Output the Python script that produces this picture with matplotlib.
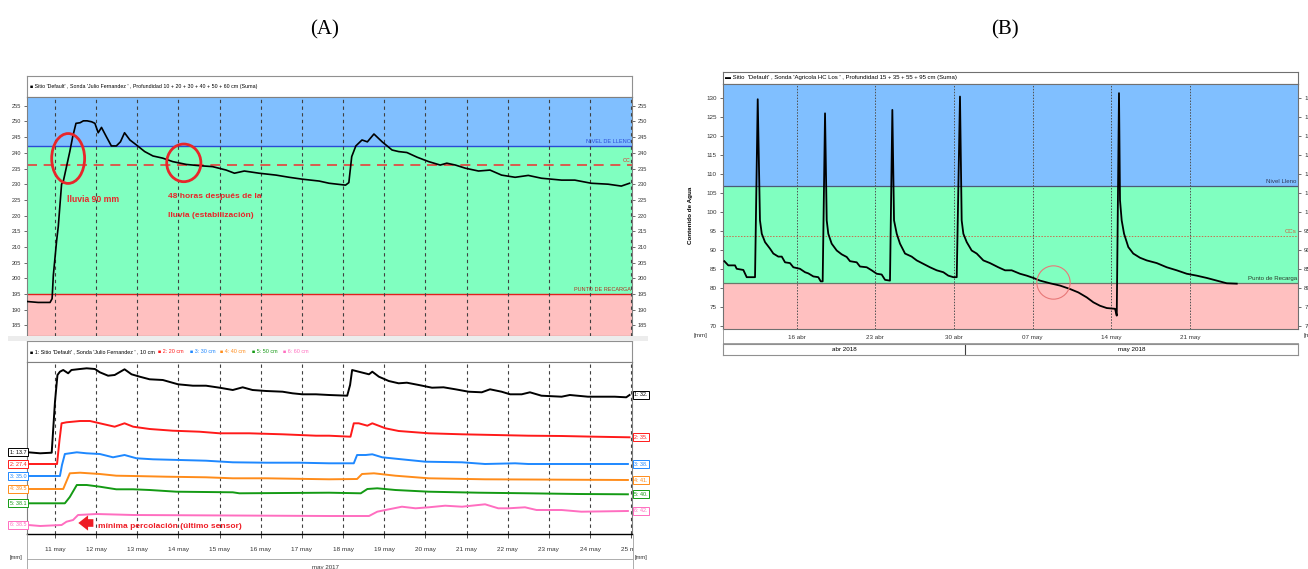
import numpy as np
import matplotlib
matplotlib.use("Agg")
import matplotlib.pyplot as plt
from matplotlib.patches import Ellipse, Rectangle
from matplotlib.lines import Line2D
from matplotlib.transforms import blended_transform_factory as blend

# ======================= DATA : panel (A) =======================
# suma 10..60 cm, day of May 2017 (fractional)
dias_suma_a = [10.32, 10.59, 10.88, 10.93, 10.96, 11.04, 11.08, 11.16, 11.20, 11.28, 11.36, 11.43,
               11.51, 11.61, 11.69, 11.78, 11.89, 11.97, 12.05, 12.13, 12.25, 12.37, 12.49, 12.59,
               12.69, 12.82, 12.98, 13.18, 13.38, 13.62, 13.86, 14.19, 14.51, 14.83, 15.16, 15.36,
               15.60, 15.96, 16.37, 16.69, 17.01, 17.42, 17.66, 18.06, 18.14, 18.21, 18.31, 18.46,
               18.59, 18.75, 18.95, 19.19, 19.35, 19.55, 19.80, 20.08, 20.36, 20.52, 20.73, 20.97,
               21.29, 21.57, 21.85, 22.18, 22.50, 22.82, 23.31, 23.63, 24.03, 24.44, 24.76, 24.96]
suma_a = [192.6, 192.3, 192.3, 193.5, 201.0, 212.0, 216.5, 230.0, 230.8, 235.6, 240.4, 245.1,
          249.4, 249.6, 250.2, 250.2, 249.9, 249.4, 246.4, 248.1, 245.1, 242.2, 242.2, 243.5,
          246.4, 244.1, 242.5, 240.4, 239.0, 238.3, 237.2, 236.3, 235.9, 235.6, 234.5, 233.5,
          234.2, 233.5, 232.9, 232.2, 231.6, 231.0, 230.3, 229.7, 230.5, 238.8, 242.2, 244.1,
          243.5, 246.0, 243.5, 240.9, 240.4, 240.1, 238.6, 237.2, 236.1, 236.7, 236.1, 235.1,
          234.2, 234.5, 232.9, 232.2, 232.8, 231.9, 231.3, 231.3, 230.3, 230.0, 229.4, 230.3]
nivel_lleno_a = 242.2
cc_a = 236.2
punto_recarga_a = 195.0
etiquetas_dias_a = ["11 may", "12 may", "13 may", "14 may", "15 may", "16 may", "17 may",
                    "18 may", "19 may", "20 may", "21 may", "22 may", "23 may", "24 may", "25 may"]
mes_a = "may 2017"

# individual sensors (relative reading, stacked display)
dias_s1 = [10.35, 10.64, 10.92, 11.00, 11.06, 11.12, 11.20, 11.32, 11.40, 11.61, 11.77, 11.97, 12.09,
           12.29, 12.45, 12.69, 12.86, 13.06, 13.30, 13.62, 13.99, 14.35, 14.67, 15.00, 15.32, 15.56,
           15.80, 16.13, 16.53, 16.77, 17.01, 17.34, 17.66, 18.10, 18.17, 18.22, 18.38, 18.63, 18.71,
           18.87, 19.11, 19.35, 19.55, 19.84, 20.16, 20.44, 20.73, 21.05, 21.37, 21.57, 21.85, 22.06,
           22.34, 22.54, 22.82, 23.31, 23.51, 23.95, 24.60, 24.88, 24.96]
lect_s1 = [81.7, 80.7, 81.3, 132.3, 159.0, 162.3, 164.0, 160.7, 164.0, 165.0, 165.7, 165.0, 161.7,
           158.3, 159.0, 164.7, 159.7, 157.3, 154.7, 154.0, 149.7, 148.3, 148.3, 146.3, 144.0, 146.7,
           144.0, 143.0, 142.3, 140.7, 139.7, 139.7, 139.0, 138.3, 149.0, 164.0, 162.3, 159.7, 162.3,
           157.3, 153.0, 150.7, 151.3, 149.0, 146.3, 146.7, 144.7, 142.3, 141.7, 144.7, 142.3, 139.7,
           139.7, 141.7, 138.3, 137.3, 139.0, 137.3, 137.3, 136.7, 139.0]
dias_s2 = [10.35, 11.05, 11.11, 11.16, 11.28, 11.61, 11.85, 12.09, 12.45, 12.69, 12.90, 13.30, 13.86,
           14.51, 15.00, 15.72, 16.53, 17.34, 17.66, 18.18, 18.26, 18.38, 18.59, 18.71, 19.03, 19.35,
           20.08, 20.89, 21.69, 22.50, 23.31, 24.12, 24.96]
lect_s2 = [70.0, 70.0, 94.0, 110.7, 111.7, 113.0, 113.0, 110.7, 107.3, 110.7, 107.3, 105.0, 103.3,
           102.3, 100.7, 100.7, 99.7, 98.3, 98.3, 97.3, 110.7, 110.7, 108.3, 110.7, 105.7, 103.0,
           100.7, 99.7, 99.0, 98.3, 98.0, 97.3, 96.7]
dias_s3 = [10.35, 11.12, 11.17, 11.24, 11.53, 11.77, 12.09, 12.41, 12.69, 12.98, 13.38, 14.03, 14.67,
           15.32, 16.13, 16.93, 17.66, 18.26, 18.34, 18.55, 18.71, 18.95, 19.35, 20.00, 20.89, 21.45,
           22.18, 22.50, 24.92]
lect_s3 = [58.0, 58.0, 69.0, 80.0, 81.7, 80.7, 80.0, 76.7, 79.0, 75.7, 74.7, 74.0, 73.3,
           71.7, 71.3, 71.3, 70.7, 70.7, 79.0, 79.0, 79.7, 76.7, 75.0, 72.3, 71.7, 70.0,
           70.7, 70.0, 70.0]
dias_s4 = [10.35, 11.20, 11.36, 11.61, 12.09, 12.49, 12.90, 13.70, 14.67, 15.32, 16.13, 17.66, 18.34,
           18.46, 18.75, 19.27, 20.08, 21.45, 24.92]
lect_s4 = [45.0, 45.0, 60.7, 61.3, 60.0, 58.3, 58.0, 57.3, 56.7, 55.7, 55.7, 54.7, 55.0,
           60.0, 60.7, 58.3, 55.7, 54.7, 54.0]
dias_s5 = [10.35, 11.24, 11.36, 11.53, 11.77, 12.09, 12.49, 12.90, 13.30, 13.95, 15.32, 15.48, 17.66,
           18.43, 18.59, 18.83, 19.27, 20.08, 21.29, 22.50, 23.71, 24.92]
lect_s5 = [30.7, 30.7, 37.0, 49.0, 49.0, 47.3, 44.7, 44.7, 44.0, 42.3, 41.7, 40.7, 41.3,
           40.7, 45.0, 45.7, 44.0, 42.3, 41.3, 40.7, 40.0, 39.7]
dias_s6 = [10.35, 10.64, 11.16, 11.28, 11.44, 11.56, 12.01, 12.90, 17.66, 18.63, 18.83, 19.03, 19.43,
           19.76, 20.08, 20.48, 20.89, 21.45, 21.77, 22.02, 22.42, 22.70, 23.31, 23.79, 24.92]
lect_s6 = [9.0, 8.0, 9.0, 12.3, 14.0, 19.0, 20.0, 19.0, 18.0, 18.0, 22.3, 24.0, 27.3,
           25.7, 26.7, 28.3, 27.3, 29.7, 25.7, 25.7, 26.7, 24.0, 24.0, 22.3, 23.0]
nombres_sensores = ["1: Sitio 'Default' , Sonda 'Julio Fernandez ' , 10 cm", "2: 20 cm", "3: 30 cm",
                    "4: 40 cm", "5: 50 cm", "6: 60 cm"]
inicio_a = ["1: 13.7", "2: 27.4", "3: 35.0", "4: 39.5", "5: 38.1", "6: 38.5"]
fin_a = ["1: 32.", "2: 35.", "3: 38.", "4: 41.", "5: 40.", "6: 42."]

# ======================= DATA : panel (B) =======================
# day counted from 1 Apr 2018 (May d = 30 + d)
dias_b = [9.56, 9.91, 10.51, 10.66, 11.25, 11.55, 12.29, 12.53, 12.73, 12.89, 13.18, 13.62, 13.92,
          14.36, 14.67, 14.96, 15.40, 15.70, 16.29, 16.74, 17.03, 17.48, 17.92, 18.14, 18.31, 18.52,
          18.67, 18.81, 19.11, 19.56, 20.00, 20.45, 20.74, 21.34, 21.63, 22.23, 22.67, 23.12, 23.56,
          23.86, 24.30, 24.51, 24.66, 24.90, 25.19, 25.64, 26.23, 26.68, 27.27, 27.86, 28.46, 29.05,
          29.49, 29.94, 30.24, 30.53, 30.68, 30.83, 31.13, 31.57, 32.02, 32.61, 33.20, 33.94, 34.54,
          35.13, 35.87, 36.47, 37.06, 37.65, 38.54, 39.43, 40.32, 41.06, 41.81, 42.40, 42.99, 43.59,
          44.33, 44.48, 44.68, 44.77, 44.92, 45.13, 45.51, 45.95, 46.55, 47.15, 48.04, 48.93, 49.82,
          50.71, 51.60, 52.49, 53.38, 54.27, 55.16]
agua_b = [87.1, 86.0, 86.0, 85.1, 84.8, 82.9, 82.9, 129.6, 97.8, 94.3, 92.1, 90.4, 89.1,
          88.3, 88.3, 86.8, 86.6, 85.5, 85.1, 84.2, 83.9, 83.1, 82.9, 81.8, 81.8, 125.9,
          97.8, 94.3, 91.7, 89.9, 88.9, 88.2, 87.1, 86.8, 85.7, 85.5, 84.7, 83.8, 83.6,
          82.2, 82.0, 126.8, 97.8, 94.3, 91.7, 89.1, 88.3, 87.3, 86.4, 85.5, 84.7, 84.2,
          83.3, 82.9, 82.9, 130.3, 97.8, 94.3, 92.1, 89.9, 89.1, 87.3, 86.6, 85.5, 84.7,
          84.7, 83.8, 83.3, 82.7, 82.0, 81.3, 80.7, 79.8, 78.9, 77.6, 76.3, 75.4, 74.8,
          74.6, 72.8, 131.2, 103.1, 97.8, 94.3, 90.8, 89.1, 88.0, 87.3, 86.6, 85.5, 84.7,
          83.8, 83.3, 82.7, 82.0, 81.3, 81.2]
nivel_lleno_b = 106.9
ccs_b = 93.7
punto_recarga_b = 81.4
etiquetas_x_b = ["16 abr", "23 abr", "30 abr", "07 may", "14 may", "21 may"]
meses_b = ["abr 2018", "may 2018"]
dias_abril = 30

# ======================= STYLE / LAYOUT =======================
W, H = 1308, 569
NARROW = ['Liberation Sans Narrow', 'Liberation Sans', 'DejaVu Sans']
SANS = ['Liberation Sans', 'DejaVu Sans']
SERIF = ['Liberation Serif', 'DejaVu Serif']
plt.rcParams['font.family'] = NARROW
BLUE, GREEN, PINK = '#80bfff', '#80ffc0', '#ffc0c0'
COL_S = ['#000000', '#ff1a1a', '#1e88ff', '#ff8c1a', '#149a14', '#ff6ec0']
RED_NOTE = '#e8262a'

fig = plt.figure(figsize=(W / 100, H / 100), dpi=100)
fig.patch.set_facecolor('white')


def R(x0, y0, x1, y1):
    return [x0 / W, 1 - y1 / H, (x1 - x0) / W, (y1 - y0) / H]


def frame(ax, color='#909090', lw=0.8):
    for s in ax.spines.values():
        s.set_color(color)
        s.set_linewidth(lw)


# ---------- titles ----------
fig.text(325 / W, 1 - 30 / H, "(A)", family=SERIF, fontsize=15, ha='center', va='center')
fig.text(1005 / W, 1 - 30 / H, "(B)", family=SERIF, fontsize=15, ha='center', va='center')

# ================= PANEL A =================
ticks_a = [int(s.split()[0]) for s in etiquetas_dias_a]
XA = (10.32, 25.02)

# header top
axH1 = fig.add_axes(R(27, 76, 632, 97))
axH1.set_xticks([]); axH1.set_yticks([]); frame(axH1)
axH1.text(0.005, 0.5, "\u25a0 Sitio 'Default' , Sonda 'Julio Fernandez ' , Profundidad 10 + 20 + 30 + 40 + 50 + 60 cm (Suma)",
          fontsize=3.8, va='center', ha='left', transform=axH1.transAxes, family=NARROW)

# top plot
axT = fig.add_axes(R(27, 97, 632, 336))
axT.set_xlim(*XA)
axT.set_ylim(181.6, 257.8)
y0, y1 = axT.get_ylim()
axT.axhspan(y0, punto_recarga_a, color=PINK, lw=0, zorder=0)
axT.axhspan(punto_recarga_a, nivel_lleno_a, color=GREEN, lw=0, zorder=0)
axT.axhspan(nivel_lleno_a, y1, color=BLUE, lw=0, zorder=0)
axT.axhline(nivel_lleno_a, color='#2a4bd7', lw=1.0, zorder=1)
axT.axhline(punto_recarga_a, color='#e02020', lw=1.0, zorder=1)
axT.axhline(cc_a, color='#e8403a', lw=1.2, ls=(0, (6, 4)), zorder=2)
for d in ticks_a:
    axT.axvline(d, color='#404040', lw=0.8, ls=(0, (3, 3)), zorder=1)
axT.plot(dias_suma_a, suma_a, color='black', lw=1.2, zorder=4)
tA = blend(axT.transAxes, axT.transData)
axT.text(0.998, nivel_lleno_a + 0.7, "NIVEL DE LLENO", color='#2a4bd7', fontsize=4.0, ha='right', va='bottom', transform=tA)
axT.text(0.998, cc_a + 0.7, "CC", color='#e03030', fontsize=4.0, ha='right', va='bottom', transform=tA)
axT.text(0.998, punto_recarga_a + 0.7, "PUNTO DE RECARGA", color='#b03020', fontsize=4.0, ha='right', va='bottom', transform=tA)
axT.set_yticks(np.arange(185, 256, 5))
axT.tick_params(axis='y', left=True, right=True, labelleft=True, labelright=True, length=2, width=0.5,
                colors='#333333', labelsize=4.1, pad=2)
axT.tick_params(axis='x', bottom=False, labelbottom=False)
frame(axT, '#808080')
axT.spines['bottom'].set_color('#333333')
# annotations
axT.add_patch(Ellipse((11.32, 238.2), 0.80, 15.9, fill=False, ec=RED_NOTE, lw=2.0, zorder=5))
axT.add_patch(Ellipse((14.13, 236.8), 0.83, 12.0, fill=False, ec=RED_NOTE, lw=2.0, zorder=5))
axT.text(11.28, 225.0, "lluvia 90 mm", color=RED_NOTE, fontsize=6.2, fontweight='bold', ha='left', va='center', zorder=6)
axT.text(13.75, 226.2, "48 horas después de la", color=RED_NOTE, fontsize=6.0, fontweight='bold', ha='left', va='center', zorder=6)
axT.text(13.75, 219.9, "lluvia (estabilización)", color=RED_NOTE, fontsize=6.0, fontweight='bold', ha='left', va='center', zorder=6)

# grey strip between the two charts
fig.add_artist(Rectangle((8 / W, 1 - 341 / H), (648 - 8) / W, 5 / H, transform=fig.transFigure,
                         fc='#ececec', ec='none'))

# header lower
axH2 = fig.add_axes(R(27, 341, 632, 362))
axH2.set_xticks([]); axH2.set_yticks([]); frame(axH2)
head_x = [30, 158, 190, 220, 252, 283]
for nm, c, hx in zip(nombres_sensores, COL_S, head_x):
    axH2.text((hx - 27) / 605, 0.5, "\u25a0 " + nm, color=c, fontsize=3.9, va='center', ha='left',
              transform=axH2.transAxes)

# lower plot
axL = fig.add_axes(R(27, 362, 632, 534))
axL.set_xlim(*XA)
axL.set_ylim(0, 172)
for d in ticks_a:
    axL.axvline(d, color='#404040', lw=0.8, ls=(0, (3, 3)), zorder=1)
series = [(dias_s1, lect_s1), (dias_s2, lect_s2), (dias_s3, lect_s3),
          (dias_s4, lect_s4), (dias_s5, lect_s5), (dias_s6, lect_s6)]
for (dx, vy), c in zip(series, COL_S):
    axL.plot(dx, vy, color=c, lw=1.4, zorder=3)
axL.set_yticks([])
axL.set_xticks(ticks_a)
axL.set_xticklabels(etiquetas_dias_a)
axL.tick_params(axis='x', length=3, width=0.6, colors='#333333', labelsize=4.6, pad=6)
frame(axL, '#808080')
axL.spines['bottom'].set_color('black')
axL.spines['bottom'].set_linewidth(1.0)
trL = blend(fig.transFigure, axL.transData)
for lab, (dx, vy), c in zip(inicio_a, series, COL_S):
    axL.text(18 / W, vy[0], lab, transform=trL, ha='center', va='center', fontsize=3.9, color=c,
             bbox=dict(boxstyle='square,pad=0.25', fc='white', ec=c, lw=0.7), clip_on=False, zorder=6)
for lab, (dx, vy), c in zip(fin_a, series, COL_S):
    axL.text(634 / W, vy[-1], lab, transform=trL, ha='left', va='center', fontsize=3.9, color=c,
             bbox=dict(boxstyle='square,pad=0.25', fc='white', ec=c, lw=0.7), clip_on=False, zorder=6)
axL.annotate("", xy=(11.50, 11), xytext=(12.00, 11),
             arrowprops=dict(arrowstyle='simple,head_length=0.7,head_width=1.1,tail_width=0.55',
                             color='#ee1c25', lw=0), zorder=6)
axL.text(12.05, 8, "mínima percolación (último sensor)", color='#ee1c25', fontsize=6.0, fontweight='bold',
         ha='left', va='center', zorder=6)

# bottom rows of panel A
fig.add_artist(Rectangle((633 / W, 1 - 556 / H), 15 / W, 16 / H, transform=fig.transFigure, fc='white', ec='none'))
fig.add_artist(Line2D([27 / W, 632 / W], [1 - 559 / H] * 2, transform=fig.transFigure, color='#a0a0a0', lw=0.6))
for xx in (27, 632.5):
    fig.add_artist(Line2D([xx / W] * 2, [1 - 534 / H, 0], transform=fig.transFigure, color='#a0a0a0', lw=0.6))
fig.text(16 / W, 1 - 558 / H, "[mm]", fontsize=4.2, ha='center', va='center', color='#333333')
fig.text(635 / W, 1 - 558 / H, "[mm]", fontsize=4.2, ha='left', va='center', color='#333333')
fig.text(325 / W, 1 - 567 / H, mes_a, fontsize=4.4, ha='center', va='center', color='#333333')

# ================= PANEL B =================
ticks_b = [int(s.split()[0]) + (dias_abril if s.split()[1] == 'may' else 0) for s in etiquetas_x_b]
XB = (9.44, 60.61)

axHB = fig.add_axes(R(723, 72, 1298, 84))
axHB.set_xticks([]); axHB.set_yticks([]); frame(axHB, '#707070')
axHB.text(0.004, 0.5, "\u25ac Sitio  'Default' , Sonda 'Agricola HC Los ' , Profundidad 15 + 35 + 55 + 95 cm (Suma)",
          fontsize=4.35, va='center', ha='left', transform=axHB.transAxes, family=SANS)

axB = fig.add_axes(R(723, 84, 1298, 329))
axB.set_xlim(*XB)
axB.set_ylim(69.3, 133.6)
b0, b1 = axB.get_ylim()
axB.axhspan(b0, punto_recarga_b, color=PINK, lw=0, zorder=0)
axB.axhspan(punto_recarga_b, nivel_lleno_b, color=GREEN, lw=0, zorder=0)
axB.axhspan(nivel_lleno_b, b1, color=BLUE, lw=0, zorder=0)
axB.axhline(nivel_lleno_b, color='#4a5a78', lw=0.9, zorder=1)
axB.axhline(punto_recarga_b, color='#6a786a', lw=0.9, zorder=1)
axB.axhline(ccs_b, color='#c87050', lw=0.7, ls=(0, (1.5, 1.5)), zorder=1)
for d in ticks_b:
    axB.axvline(d, color='#505050', lw=0.7, ls=(0, (1.5, 1.5)), zorder=1)
axB.plot(dias_b, agua_b, color='black', lw=1.3, zorder=4)
axB.plot([38.84], [81.6], 'o', ms=24, mfc='none', mec='#e87878', mew=0.8, zorder=5)
tB = blend(axB.transAxes, axB.transData)
axB.text(0.998, nivel_lleno_b + 0.5, "Nivel Lleno", color='#303a5a', fontsize=4.4, ha='right', va='bottom', transform=tB, family=SANS)
axB.text(0.998, ccs_b + 0.5, "CCs", color='#d06040', fontsize=4.4, ha='right', va='bottom', transform=tB, family=SANS)
axB.text(0.998, punto_recarga_b + 0.5, "Punto de Recarga", color='#2a3a2a', fontsize=4.4, ha='right', va='bottom', transform=tB, family=SANS)
axB.set_yticks(np.arange(70, 131, 5))
axB.set_xticks(ticks_b)
axB.set_xticklabels(etiquetas_x_b)
axB.tick_params(axis='y', left=True, right=True, labelleft=True, labelright=True, length=2.5, width=0.5,
                colors='#333333', labelsize=4.5, pad=2)
axB.tick_params(axis='x', length=0, colors='#333333', labelsize=4.5, pad=4)
for lbl in axB.get_xticklabels() + axB.get_yticklabels():
    lbl.set_family(SANS)
frame(axB, '#707070')
axB.set_ylabel("Contenido de Agua", fontsize=4.5, fontweight='bold', family=SANS)
axB.yaxis.set_label_coords((693 - 723) / 575, (329 - 215) / 245)

axM = fig.add_axes(R(723, 344, 1298, 355))
axM.set_xlim(*XB)
axM.set_xticks([]); axM.set_yticks([]); frame(axM, '#909090')
mayo1 = dias_abril + 1
axM.axvline(mayo1, color='#404040', lw=0.8)
axM.text((XB[0] + mayo1) / 2, 0.5, meses_b[0], ha='center', va='center', fontsize=4.5, family=SANS,
         transform=blend(axM.transData, axM.transAxes))
axM.text((mayo1 + XB[1]) / 2, 0.5, meses_b[1], ha='center', va='center', fontsize=4.5, family=SANS,
         transform=blend(axM.transData, axM.transAxes))
fig.add_artist(Line2D([723 / W, 1298 / W], [1 - 343 / H] * 2, transform=fig.transFigure, color='#909090', lw=0.6))
fig.add_artist(Line2D([723 / W] * 2, [1 - 329 / H, 1 - 355 / H], transform=fig.transFigure, color='#909090', lw=0.6))
fig.text(700 / W, 1 - 336 / H, "[mm]", fontsize=4.5, ha='center', va='center', family=SANS, color='#333333')
fig.text(1303 / W, 1 - 336 / H, "[mm]", fontsize=4.5, ha='left', va='center', family=SANS, color='#333333')

fig.savefig("out.png", dpi=100, facecolor='white')
